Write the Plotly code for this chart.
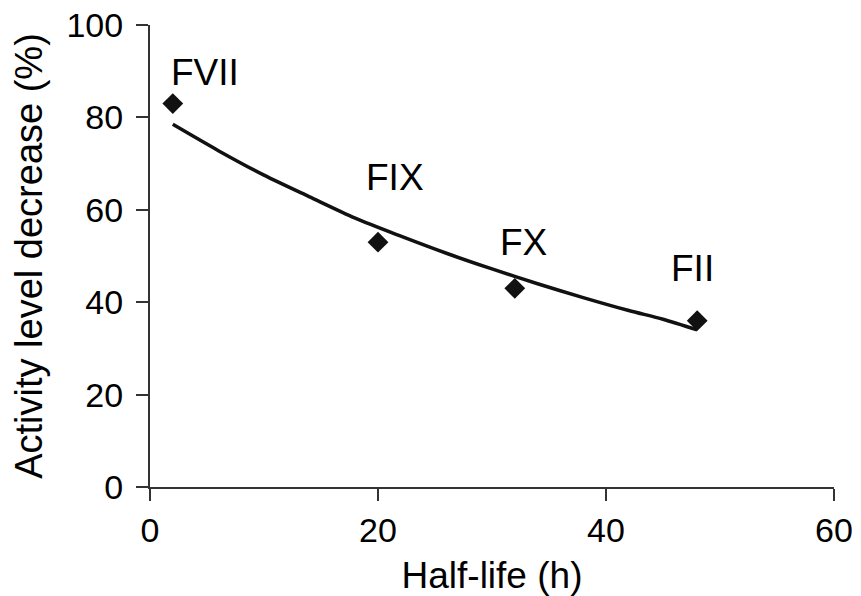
import plotly.graph_objects as go

# Data points (factor half-life vs activity decrease)
factors = ["FVII", "FIX", "FX", "FII"]
half_life = [2, 20, 32, 48]
activity_decrease = [83, 53, 43, 36]

# Trend line
trend_x = [2, 6, 10, 14, 18, 22, 26, 30, 34, 38, 42, 45, 48]
trend_y = [78.5, 72.8, 67.5, 62.8, 58.2, 54.3, 50.6, 47.2, 44, 41, 38.2, 36.3, 34]

# Label positions
label_x = [4.8, 21.5, 32.8, 47.6]
label_y = [89.8, 66.9, 53, 47.4]

FONT = "Liberation Sans, Arial, Helvetica, sans-serif"

fig = go.Figure()
fig.add_trace(go.Scatter(
    x=trend_x, y=trend_y, mode="lines",
    line=dict(color="#111111", width=3.5, shape="spline", smoothing=0.8),
    showlegend=False, hoverinfo="skip"))
fig.add_trace(go.Scatter(
    x=half_life, y=activity_decrease, mode="markers",
    marker=dict(symbol="diamond", size=16, color="#111111"),
    showlegend=False))

for name, lx, ly in zip(factors, label_x, label_y):
    fig.add_annotation(x=lx, y=ly, text=name, showarrow=False,
                       font=dict(family=FONT, size=37, color="black"),
                       xanchor="center", yanchor="middle")

fig.update_layout(
    width=853, height=588,
    margin=dict(l=142, r=27, t=17, b=109),
    plot_bgcolor="white", paper_bgcolor="white",
    font=dict(family=FONT, size=34, color="black"),
    xaxis=dict(range=[0, 60], tickvals=[0, 20, 40, 60], automargin=False,
               ticklabeloverflow="allow",
               showgrid=False, zeroline=False,
               showline=True, linecolor="#333333", linewidth=2,
               ticks="outside", ticklen=12, tickwidth=2, tickcolor="#333333",
               tickfont=dict(size=34),
               title=dict(text="Half-life (h)", font=dict(size=37), standoff=14)),
    yaxis=dict(range=[0, 100], tickvals=[0, 20, 40, 60, 80, 100], automargin=False,
               ticklabeloverflow="allow", ticklabelstandoff=6,
               showgrid=False, zeroline=False,
               showline=True, linecolor="#333333", linewidth=2,
               ticks="outside", ticklen=12, tickwidth=2, tickcolor="#333333",
               tickfont=dict(size=34),
               title=dict(text="Activity level decrease (%)", font=dict(size=38), standoff=14)),
)

fig.write_html("out.html")
